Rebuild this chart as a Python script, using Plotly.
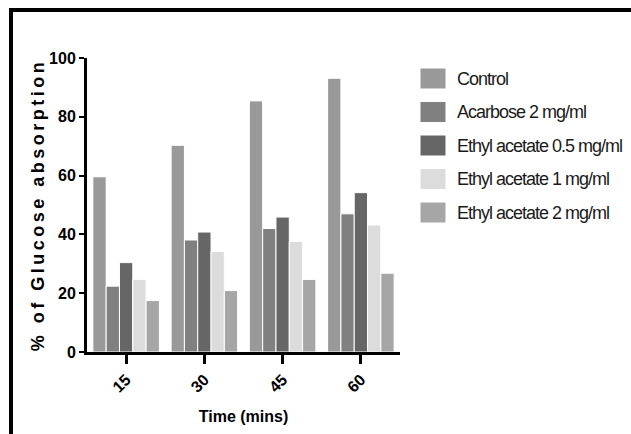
import plotly.graph_objects as go

# ---- data ----
time_points = ["15", "30", "45", "60"]
series_names = ["Control", "Acarbose 2 mg/ml", "Ethyl acetate 0.5 mg/ml",
                "Ethyl acetate 1 mg/ml", "Ethyl acetate 2 mg/ml"]
control = [59.6, 70.3, 85.4, 93.1]
acarbose_2 = [22.4, 38.1, 42.0, 47.0]
ethyl_acetate_05 = [30.4, 40.8, 45.9, 54.2]
ethyl_acetate_1 = [24.7, 34.2, 37.6, 43.2]
ethyl_acetate_2 = [17.5, 20.9, 24.7, 26.8]
y_ticks = [0, 20, 40, 60, 80, 100]

series_values = [control, acarbose_2, ethyl_acetate_05, ethyl_acetate_1, ethyl_acetate_2]
colors = ["#999999", "#808080", "#666666", "#dcdcdc", "#a6a6a6"]

W, H = 631, 434
L, R, T, B = 87, 231, 58, 82
pw, ph = W - L - R, H - T - B

def px_x(px):
    return (px - L) / pw

def px_y(py):
    return (H - B - py) / ph

fig = go.Figure()
for name, vals, col in zip(series_names, series_values, colors):
    fig.add_trace(go.Bar(
        x=time_points, y=vals, name=name, showlegend=False,
        marker=dict(color=col, line=dict(color="white", width=1)),
    ))

shapes = []
annotations = []
# manual legend
for i, (name, col) in enumerate(zip(series_names, colors)):
    cy = 78.5 + 33.5 * i
    shapes.append(dict(type="rect", xref="paper", yref="paper",
                       x0=px_x(420.5), x1=px_x(445.5),
                       y0=px_y(cy - 10), y1=px_y(cy + 10),
                       fillcolor=col, line=dict(width=0)))
    annotations.append(dict(xref="paper", yref="paper", x=px_x(455), y=px_y(cy),
                            xanchor="left", yanchor="middle", showarrow=False,
                            align="left", text=name,
                            font=dict(family="Liberation Sans", size=18, color="#1a1a1a")))

# black frame lines (top and left)
shapes.append(dict(type="line", xref="paper", yref="paper",
                   x0=px_x(9), x1=px_x(650), y0=px_y(10), y1=px_y(10),
                   line=dict(color="black", width=4)))
shapes.append(dict(type="line", xref="paper", yref="paper",
                   x0=px_x(11), x1=px_x(11), y0=px_y(8), y1=px_y(450),
                   line=dict(color="black", width=4)))

bold = "Liberation Sans"
fig.update_layout(
    width=W, height=H,
    margin=dict(l=L, r=R, t=T, b=B, autoexpand=False),
    paper_bgcolor="white", plot_bgcolor="white",
    barmode="group", bargap=0.15, bargroupgap=0.0,
    shapes=shapes, annotations=annotations,
    font=dict(family=bold, color="black"),
    xaxis=dict(
        type="category", categoryorder="array", categoryarray=time_points,
        showline=True, linecolor="black", linewidth=3,
        ticks="outside", ticklen=9, tickwidth=3, tickcolor="black",
        tickangle=-45, tickfont=dict(family=bold, size=16, color="black", weight="bold"),
        showgrid=False, zeroline=False,
        title=dict(text="Time (mins)", standoff=17,
                   font=dict(family=bold, size=16, color="black", weight="bold")),
    ),
    yaxis=dict(
        range=[0, 100], tickvals=y_ticks,
        showline=True, linecolor="black", linewidth=3,
        ticks="outside", ticklen=5, tickwidth=2, tickcolor="black",
        tickfont=dict(family=bold, size=16, color="black", weight="bold"),
        showgrid=False, zeroline=False,
        title=dict(text="% of Glucose absorption", standoff=0,
                   font=dict(family=bold, size=18, color="black", weight="bold")),
    ),
)

post = (
    "document.body.style.margin='0';"
    "document.documentElement.style.overflow='hidden';"
    "document.querySelectorAll('.ytitle').forEach(function(e){e.style.letterSpacing='3.5px';});"
    "document.querySelectorAll('.annotation-text').forEach(function(e){e.style.letterSpacing='-1px';});"
)
fig.write_html("out.html", post_script=post, config={"displayModeBar": False})
